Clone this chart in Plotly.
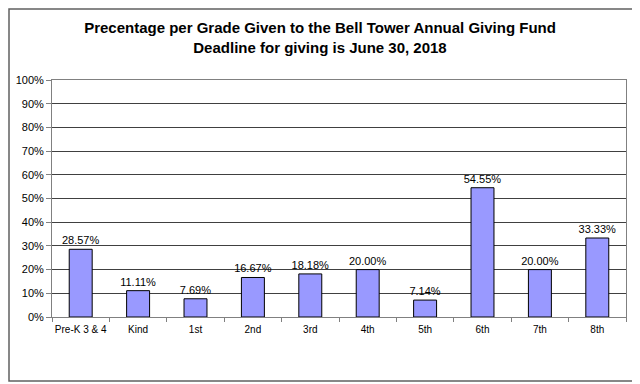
import plotly.graph_objects as go

grades = ["Pre-K 3 & 4", "Kind", "1st", "2nd", "3rd", "4th", "5th", "6th", "7th", "8th"]
percent = [28.57, 11.11, 7.69, 16.67, 18.18, 20.00, 7.14, 54.55, 20.00, 33.33]
y_ticks = [0, 10, 20, 30, 40, 50, 60, 70, 80, 90, 100]
y_tick_labels = [f"{v}%" for v in y_ticks]

fig = go.Figure()
fig.add_trace(go.Bar(
    x=grades, y=percent,
    width=0.4,
    marker=dict(color="#9999FF", line=dict(color="#000000", width=1)),
    text=[f"{v:.2f}%" for v in percent],
    textposition="outside",
    constraintext="none",
    textfont=dict(family="Arial, Liberation Sans", size=11, color="#000000"),
    cliponaxis=False,
))

W, H = 632, 376
L, R, T, B = 44, 14, 72, 67
pw, ph = W - L - R, H - T - B

fig.update_layout(
    width=W, height=H,
    margin=dict(l=L, r=R, t=T, b=B, autoexpand=False),
    paper_bgcolor="white", plot_bgcolor="white",
    font=dict(family="Arial, Liberation Sans", size=11, color="#000000"),
    showlegend=False,
    uniformtext=dict(minsize=11, mode="show"),
    title=dict(
        text="Precentage per Grade Given to the Bell Tower Annual Giving Fund<br>Deadline for giving is June 30, 2018",
        x=312 / W, xanchor="center", xref="container",
        y=1 - 25 / H, yref="container", yanchor="top",
        font=dict(family="Arial, Liberation Sans", size=15, color="#000000", weight="bold"),
    ),
    xaxis=dict(
        type="category", showgrid=False, ticks="outside", tickson="boundaries",
        ticklen=4, tickcolor="#808080", linecolor="#808080", mirror=True, showline=True,
        tickfont=dict(size=10), tickangle=0, automargin=False, ticklabelstandoff=3,
    ),
    yaxis=dict(
        range=[0, 100], tickvals=y_ticks, ticktext=y_tick_labels,
        showgrid=True, gridcolor="#404040", gridwidth=1,
        ticks="outside", ticklen=5, tickcolor="#808080",
        linecolor="#808080", mirror=True, showline=True, zeroline=False,
        tickfont=dict(size=11), automargin=False,
    ),
    bargap=0.6,
    shapes=[dict(
        type="rect", xref="paper", yref="paper",
        x0=(1 - L) / pw, x1=(625 - L) / pw,
        y0=(H - B - 373) / ph, y1=(H - B - 1) / ph,
        line=dict(color="#606060", width=1.5), fillcolor="rgba(0,0,0,0)", layer="below",
    )],
)

fig.write_html("out.html")
